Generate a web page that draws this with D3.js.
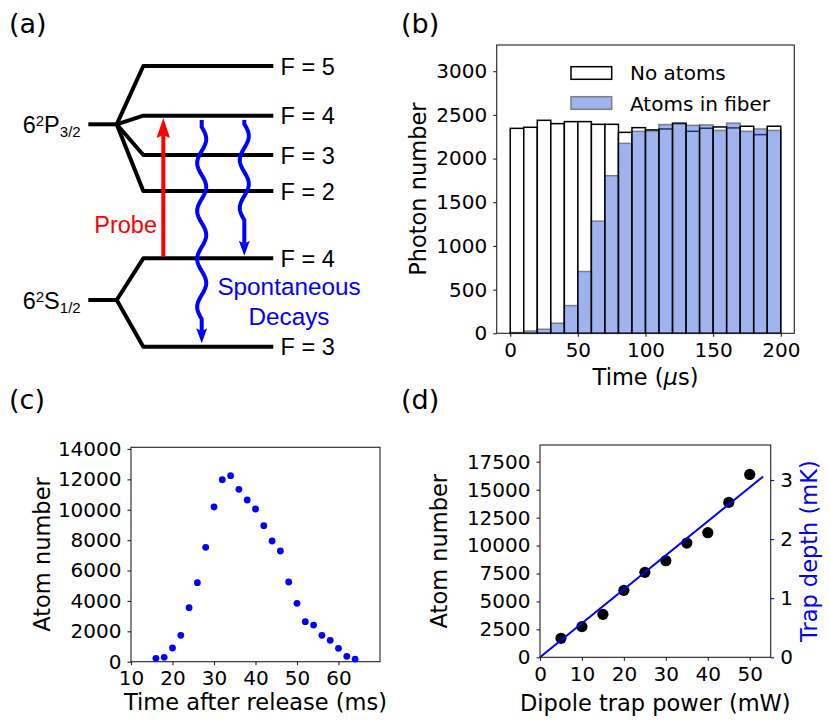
<!DOCTYPE html>
<html><head><meta charset="utf-8">
<script src="https://cdn.jsdelivr.net/npm/d3@7"></script>
<style>
body{margin:0;background:#fff;}
svg{display:block;}
.ax text{font-family:"DejaVu Sans",sans-serif;font-size:20px;fill:#000;}
.lab{font-family:"DejaVu Sans",sans-serif;font-size:22.5px;}
.dia{font-family:"Liberation Sans",Arial,sans-serif;}
</style></head>
<body>
<script>
// ---------- Panel (b) data ----------
const binEdgesStart = [0,10,20,30,40,50,60,70,80,90,100,110,120,130,140,150,160,170,180,190];
const binWidth = 10;
const noAtoms = [2346,2358,2438,2400,2423,2423,2392,2392,2300,2354,2328,2339,2400,2312,2347,2362,2351,2370,2274,2370];
const atomsInFiber = [8,26,46,115,317,707,1284,1804,2174,2312,2315,2389,2410,2380,2385,2322,2405,2312,2339,2322];
const bXTicks = [0,50,100,150,200];
const bYTicks = [0,500,1000,1500,2000,2500,3000];
const bLegend = ["No atoms","Atoms in fiber"];

// ---------- Panel (c) data ----------
const releaseTime = [16,18,20,22,24,26,28,30,32,34,36,38,40,42,44,46,48,50,52,54,56,58,60,62,64];
const atomNumberC = [219,285,900,1733,3554,5200,7525,10180,11980,12243,11343,10641,10049,8952,7942,7284,5244,3840,2633,2413,1733,1404,878,351,176];
const cXTicks = [10,20,30,40,50,60];
const cYTicks = [0,2000,4000,6000,8000,10000,12000,14000];

// ---------- Panel (d) data ----------
const trapPower = [5,10,15,20,25,30,35,40,45,50];
const atomNumberD = [1699,2743,3845,5992,7602,8645,10225,11149,13862,16366];
const fitPower = [0,53.2];
const fitDepth = [0,3.06];
const dXTicks = [0,10,20,30,40,50];
const dYTicks = [0,2500,5000,7500,10000,12500,15000,17500];
const dY2Ticks = [0,1,2,3];

// ---------- Panel (a) data ----------
const pLevels = [{F:"F = 5", y:66},{F:"F = 4", y:115.7},{F:"F = 3", y:155},{F:"F = 2", y:191}];
const sLevels = [{F:"F = 4", y:258.3},{F:"F = 3", y:346.7}];

const W=830,H=726;
const svg = d3.select("body").append("svg").attr("width",W).attr("height",H);

function frame(g,x0,x1,y0,y1){
  g.append("rect").attr("x",x0).attr("y",y0).attr("width",x1-x0).attr("height",y1-y0)
   .attr("fill","none").attr("stroke","#222").attr("stroke-width",1.1);
}
function styleAxis(sel,color){
  sel.attr("class","ax");
  sel.select(".domain").remove();
  sel.selectAll(".tick line").attr("stroke",color||"#222").attr("stroke-width",1.1);
  sel.selectAll(".tick text").attr("fill",color||"#000");
}
function panelLabel(t,x,y){
  svg.append("text").attr("x",x).attr("y",y).text(t)
    .attr("font-family","DejaVu Sans, sans-serif").attr("font-size",27);
}

// ================= Panel (a) =================
const ga = svg.append("g");
const black = "#000";
const lw = 4;
const levX0 = 143.3, levX1 = 273.3;
const pStub = {x0:88.3, x1:116.7, y:124.3};
const sStub = {x0:88.3, x1:116.7, y:300};
ga.append("line").attr("x1",pStub.x0).attr("x2",pStub.x1).attr("y1",pStub.y).attr("y2",pStub.y).attr("stroke",black).attr("stroke-width",lw);
ga.append("line").attr("x1",sStub.x0).attr("x2",sStub.x1).attr("y1",sStub.y).attr("y2",sStub.y).attr("stroke",black).attr("stroke-width",lw);
function level(stub,l){
  ga.append("path").attr("d",`M${stub.x1},${stub.y} L${levX0},${l.y} L${levX1},${l.y}`)
    .attr("fill","none").attr("stroke",black).attr("stroke-width",lw).attr("stroke-linejoin","round");
  ga.append("text").attr("class","dia").attr("x",280.5).attr("y",l.y+8.5).attr("font-size",23.5).text(l.F);
}
pLevels.forEach(l=>level(pStub,l));
sLevels.forEach(l=>level(sStub,l));

function stateLabel(main,sub,y){
  const t = ga.append("text").attr("class","dia").attr("x",22.7).attr("y",y).attr("font-size",23.5);
  t.append("tspan").text("6");
  t.append("tspan").attr("font-size",15).attr("dy",-7).text("2");
  t.append("tspan").attr("dy",7).text(main);
  t.append("tspan").attr("font-size",15).attr("dy",4).text(sub);
}
stateLabel("P","3/2",133.3);
stateLabel("S","1/2",309.3);

// probe arrow
const red = "#ff0000";
ga.append("line").attr("x1",163.3).attr("x2",163.3).attr("y1",256.5).attr("y2",132).attr("stroke",red).attr("stroke-width",4);
ga.append("path").attr("d","M163.3,118 L170,138 L163.3,135 L156.6,138 Z").attr("fill",red);
ga.append("text").attr("class","dia").attr("x",157).attr("y",233.3).attr("text-anchor","end").attr("font-size",23.5).attr("fill",red).text("Probe");

// wavy arrows
const blue = "#0000ff";
function wavy(x0,yStart,waveStart,nPeriods,tip){
  const period=48, A=4.5;
  const waveEnd = waveStart + nPeriods*period;
  const pts=[[x0,yStart]];
  for(let y=waveStart;y<=waveEnd;y+=1){
    pts.push([x0 + A*Math.sin(2*Math.PI*(y-waveStart)/period), y]);
  }
  const headLen=15;
  pts.push([x0,tip-headLen+3]);
  ga.append("path").attr("d",d3.line()(pts)).attr("fill","none").attr("stroke",blue).attr("stroke-width",4);
  ga.append("path").attr("d",`M${x0},${tip} L${x0+5.5},${tip-headLen} L${x0},${tip-12} L${x0-5.5},${tip-headLen} Z`).attr("fill",blue);
}
wavy(201.7,120,127,4,343.3);
wavy(244.3,120,124,2,255.7);

ga.append("text").attr("class","dia").attr("x",289).attr("y",295).attr("text-anchor","middle").attr("font-size",24.3).attr("fill",blue).text("Spontaneous");
ga.append("text").attr("class","dia").attr("x",289).attr("y",325).attr("text-anchor","middle").attr("font-size",24.3).attr("fill",blue).text("Decays");

panelLabel("(a)",9,33);

// ================= Panel (b) =================
const gb = svg.append("g");
const bx0=496.7,bx1=794.3,by0=45,by1=333.3;
const xB = d3.scaleLinear().domain([-10,210]).range([bx0,bx1]);
const yB = d3.scaleLinear().domain([0,3300]).range([by1,by0]);
gb.selectAll("rect.none").data(noAtoms).join("rect").attr("class","none")
  .attr("x",(d,i)=>xB(binEdgesStart[i])).attr("width",(d,i)=>xB(binEdgesStart[i]+binWidth)-xB(binEdgesStart[i]))
  .attr("y",d=>yB(d)).attr("height",d=>yB(0)-yB(d))
  .attr("fill","#fff").attr("stroke","#000").attr("stroke-width",1.5);
gb.selectAll("rect.atoms").data(atomsInFiber).join("rect").attr("class","atoms")
  .attr("x",(d,i)=>xB(binEdgesStart[i])).attr("width",(d,i)=>xB(binEdgesStart[i]+binWidth)-xB(binEdgesStart[i]))
  .attr("y",d=>yB(d)).attr("height",d=>yB(0)-yB(d))
  .attr("fill","royalblue").attr("stroke","#000").attr("stroke-width",1.5).attr("opacity",0.5);
frame(gb,bx0,bx1,by0,by1);
gb.append("g").attr("transform",`translate(${bx0},0)`)
  .call(d3.axisLeft(yB).tickValues(bYTicks).tickSize(3.5).tickPadding(6).tickFormat(d3.format("d")))
  .call(s=>styleAxis(s));
gb.append("g").attr("transform",`translate(0,${by1})`)
  .call(d3.axisBottom(xB).tickValues(bXTicks).tickSize(3.5).tickPadding(6).tickFormat(d3.format("d")))
  .call(s=>styleAxis(s));
// legend
gb.append("rect").attr("x",571).attr("y",66.7).attr("width",40.7).attr("height",12.6).attr("fill","#fff").attr("stroke","#000").attr("stroke-width",1.5);
gb.append("rect").attr("x",571).attr("y",96.7).attr("width",40.7).attr("height",12.6).attr("fill","royalblue").attr("stroke","#000").attr("stroke-width",1.5).attr("opacity",0.5);
bLegend.forEach((t,i)=>{
  gb.append("text").attr("x",630).attr("y",72.5+i*31).attr("dy","0.36em")
    .attr("font-family","DejaVu Sans, sans-serif").attr("font-size",20).text(t);
});
gb.append("text").attr("class","lab").attr("transform",`translate(418,${(by0+by1)/2}) rotate(-90)`)
  .attr("text-anchor","middle").attr("dy","0.35em").text("Photon number");
const tl = gb.append("text").attr("class","lab").attr("x",(bx0+bx1)/2).attr("y",376.7).attr("dy","0.35em").attr("text-anchor","middle");
tl.append("tspan").text("Time (");
tl.append("tspan").attr("font-style","italic").text("μ");
tl.append("tspan").text("s)");
panelLabel("(b)",401,33);

// ================= Panel (c) =================
const gc = svg.append("g");
const cx0=131,cx1=380,cy0=447.3,cy1=661.7;
const xC = d3.scaleLinear().domain([10,70]).range([cx0,cx1]);
const yC = d3.scaleLinear().domain([0,14110]).range([cy1,cy0]);
frame(gc,cx0,cx1,cy0,cy1);
gc.append("g").attr("transform",`translate(${cx0},0)`)
  .call(d3.axisLeft(yC).tickValues(cYTicks).tickSize(3.5).tickPadding(6).tickFormat(d3.format("d")))
  .call(s=>styleAxis(s));
gc.append("g").attr("transform",`translate(0,${cy1})`)
  .call(d3.axisBottom(xC).tickValues(cXTicks).tickSize(3.5).tickPadding(6).tickFormat(d3.format("d")))
  .call(s=>styleAxis(s));
gc.selectAll("circle").data(releaseTime).join("circle")
  .attr("cx",d=>xC(d)).attr("cy",(d,i)=>yC(atomNumberC[i])).attr("r",3.4).attr("fill",blue);
gc.append("text").attr("class","lab").attr("transform",`translate(41.7,${(cy0+cy1)/2}) rotate(-90)`)
  .attr("text-anchor","middle").attr("dy","0.35em").text("Atom number");
gc.append("text").attr("class","lab").attr("x",(cx0+cx1)/2).attr("y",701.7).attr("dy","0.35em").attr("text-anchor","middle").text("Time after release (ms)");
panelLabel("(c)",9,409);

// ================= Panel (d) =================
const gd = svg.append("g");
const dx0=540,dx1=770.7,dy0=445,dy1=657.3;
const xD = d3.scaleLinear().domain([0,55]).range([dx0,dx1]);
const yD = d3.scaleLinear().domain([0,19000]).range([dy1,dy0]);
const yD2 = d3.scaleLinear().domain([0,3.592]).range([dy1,dy0]);
gd.selectAll("circle").data(trapPower).join("circle")
  .attr("cx",d=>xD(d)).attr("cy",(d,i)=>yD(atomNumberD[i])).attr("r",5.6).attr("fill","#000");
gd.append("path").datum(fitPower.map((p,i)=>[p,fitDepth[i]]))
  .attr("d",d3.line().x(d=>xD(d[0])).y(d=>yD2(d[1])))
  .attr("stroke",blue).attr("stroke-width",2).attr("fill","none");
frame(gd,dx0,dx1,dy0,dy1);
gd.append("g").attr("transform",`translate(${dx0},0)`)
  .call(d3.axisLeft(yD).tickValues(dYTicks).tickSize(3.5).tickPadding(6).tickFormat(d3.format("d")))
  .call(s=>styleAxis(s));
gd.append("g").attr("transform",`translate(${dx1},0)`)
  .call(d3.axisRight(yD2).tickValues(dY2Ticks).tickSize(3.5).tickPadding(6).tickFormat(d3.format("d")))
  .call(s=>styleAxis(s,blue));
gd.append("g").attr("transform",`translate(0,${dy1})`)
  .call(d3.axisBottom(xD).tickValues(dXTicks).tickSize(3.5).tickPadding(6).tickFormat(d3.format("d")))
  .call(s=>styleAxis(s));
gd.append("text").attr("class","lab").attr("transform",`translate(439.3,${(dy0+dy1)/2}) rotate(-90)`)
  .attr("text-anchor","middle").attr("dy","0.35em").text("Atom number");
gd.append("text").attr("class","lab").attr("transform",`translate(809.3,${(dy0+dy1)/2}) rotate(-90)`)
  .attr("text-anchor","middle").attr("dy","0.35em").attr("fill",blue).text("Trap depth (mK)");
gd.append("text").attr("class","lab").attr("x",(dx0+dx1)/2).attr("y",703.3).attr("dy","0.35em").attr("text-anchor","middle").text("Dipole trap power (mW)");
panelLabel("(d)",401,409);
</script>
</body></html>
